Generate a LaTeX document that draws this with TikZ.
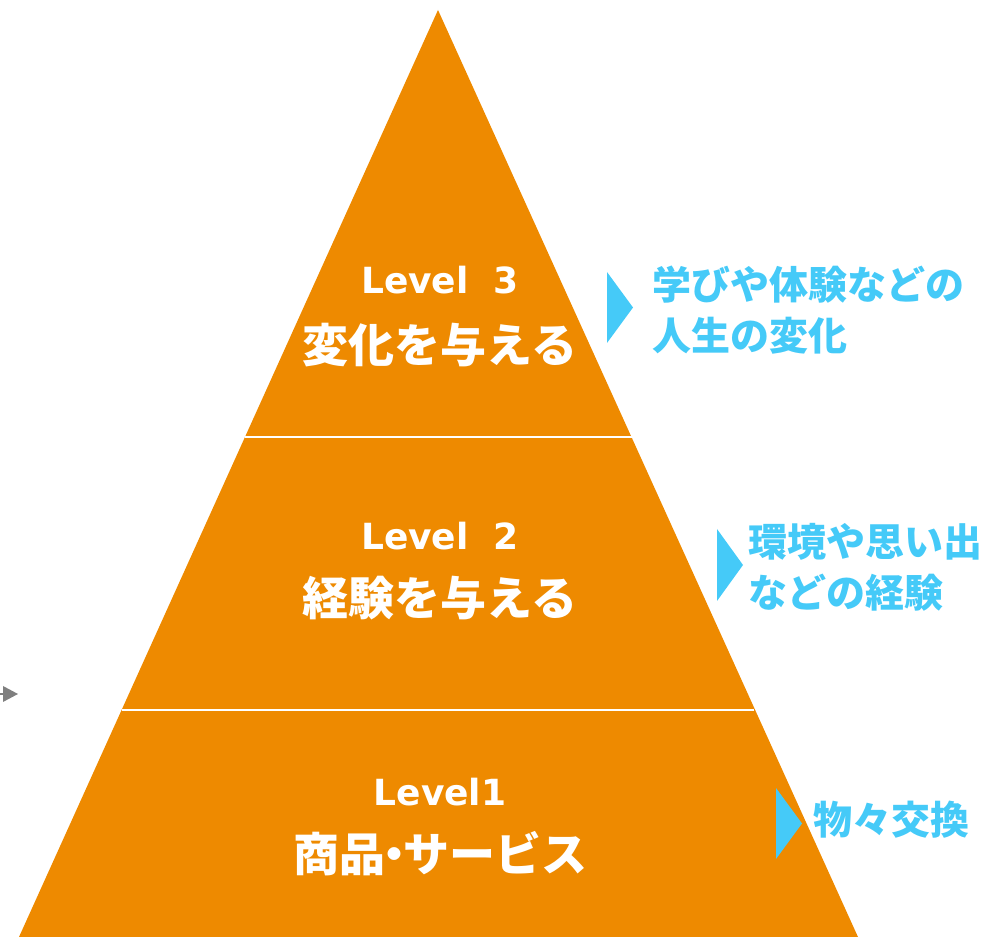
\documentclass[tikz,border=0pt]{standalone}
\usepackage{fontspec}
\newfontfamily\jp{Noto Sans CJK JP}
\newfontfamily\lat{DejaVu Sans}
\definecolor{pyr}{HTML}{EE8A00}
\definecolor{sky}{HTML}{45CAF8}
\definecolor{arrgray}{HTML}{7F7F7F}
\begin{document}
\begin{tikzpicture}[x=1pt,y=1pt,
  lvl/.style={text=white,font=\lat\bfseries\fontsize{36}{36}\selectfont,anchor=center,inner sep=0},
  ttl/.style={text=white,font=\jp\bfseries\fontsize{46}{46}\selectfont,anchor=center,inner sep=0},
  note/.style={text=sky,font=\jp\bfseries\fontsize{39}{51}\selectfont,anchor=west,align=left,inner sep=0},
  marker/.style={fill=sky,draw=none}]
\useasboundingbox (0,0) rectangle (994,937);
% pyramid
\coordinate (apex) at (438,927);
\coordinate (bl) at (19,0);
\coordinate (br) at (858,0);
\fill[pyr] (apex) -- (br) -- (bl) -- cycle;
\coordinate (d1l) at (245,500);
\coordinate (d1r) at (632,500);
\coordinate (d2l) at (122,227);
\coordinate (d2r) at (754,227);
\draw[white,line width=1.5] (d1l) -- (d1r);
\draw[white,line width=1.5] (d2l) -- (d2r);
% texts
\node[lvl] (l3) at (440,657) {Level\ \ 3};
\node[ttl] (t3) at (440,592) {変化を与える};
\node[lvl] (l2) at (440,401) {Level\ \ 2};
\node[ttl] (t2) at (440,339) {経験を与える};
\node[lvl] (l1) at (440,145) {Level1};
\node[ttl] (t1) at (440,83) {商品\kern-14pt・\kern-14ptサービス};
% markers
\fill[marker] (607,665) -- (633,629.5) -- (607,594) -- cycle;
\fill[marker] (717,408) -- (743,372) -- (717,336) -- cycle;
\fill[marker] (776,149) -- (802,113.5) -- (776,78) -- cycle;
% notes
\node[note] (n3) at (652,627) {学びや体験などの\\人生の変化};
\node[note] (n2) at (748,370) {環境や思い出\\などの経験};
\node[note] (n1) at (813,117) {物々交換};
% gray arrow stub
\coordinate (ga) at (0,243);
\coordinate (gb) at (18,243);
\draw[arrgray,line width=2.5] (ga) -- (5,243);
\fill[arrgray] (3,251) -- (gb) -- (3,235) -- cycle;
\end{tikzpicture}
\end{document}
